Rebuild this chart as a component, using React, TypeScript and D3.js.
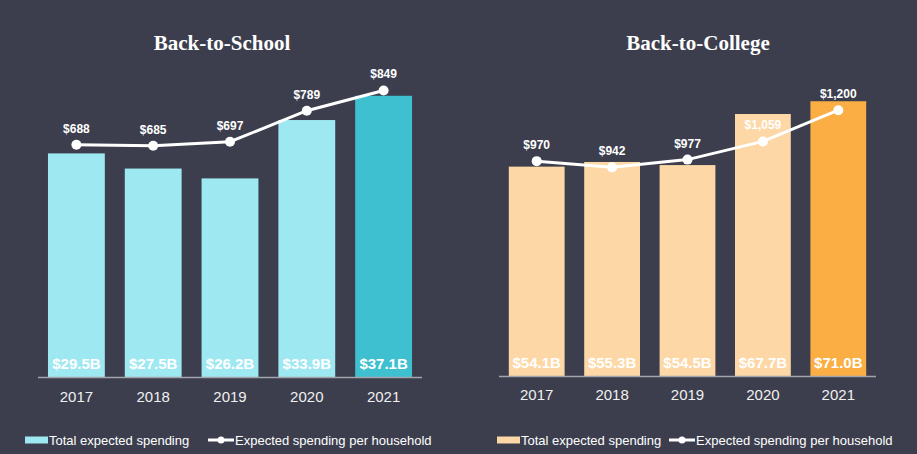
import React from "react";
import * as d3 from "d3";

const years = ["2017", "2018", "2019", "2020", "2021"];
const schoolTotals = [29.5, 27.5, 26.2, 33.9, 37.1];
const schoolPerHousehold = [688, 685, 697, 789, 849];
const collegeTotals = [54.1, 55.3, 54.5, 67.7, 71.0];
const collegePerHousehold = [970, 942, 977, 1059, 1200];
const titles = ["Back-to-School", "Back-to-College"];
const legendLabels = ["Total expected spending", "Expected spending per household"];

const BG = "rgb(60,62,77)";

type PanelProps = {
  title: string;
  totals: number[];
  perHH: number[];
  x0: number;
  x1: number;
  baseline: number;
  barPxPerUnit: number;
  linePxPerUnit: number;
  lightColor: string;
  darkColor: string;
  titleX: number;
  yearBaseline: number;
  legend: { swatchX: number; lineX: number };
};

function Panel(p: PanelProps) {
  const x = d3.scaleBand<string>().domain(years).range([p.x0, p.x1]).paddingInner(0.26).paddingOuter(0.13);
  const yBar = d3.scaleLinear().domain([0, 100]).range([p.baseline, p.baseline - 100 * p.barPxPerUnit]);
  const yLine = d3.scaleLinear().domain([0, 1000]).range([p.baseline, p.baseline - 1000 * p.linePxPerUnit]);
  const cx = (y: string) => (x(y) as number) + x.bandwidth() / 2;
  const lineGen = d3
    .line<number>()
    .x((_, i) => cx(years[i]))
    .y((v) => yLine(v));
  const fmt = d3.format("$,");
  const legendY = 440;
  return (
    <g>
      <text
        x={p.titleX}
        y={50}
        textAnchor="middle"
        fill="#ffffff"
        fontFamily="Liberation Serif, serif"
        fontWeight="bold"
        fontSize={21}
      >
        {p.title}
      </text>
      {years.map((yr, i) => (
        <rect
          key={"b" + yr}
          x={x(yr)}
          y={yBar(p.totals[i])}
          width={x.bandwidth()}
          height={p.baseline - yBar(p.totals[i])}
          fill={i === years.length - 1 ? p.darkColor : p.lightColor}
        />
      ))}
      <line x1={p.x0} x2={p.x1} y1={p.baseline + 0.5} y2={p.baseline + 0.5} stroke="#a3a5ad" strokeWidth={1.5} />
      {years.map((yr, i) => (
        <text
          key={"v" + yr}
          x={cx(yr)}
          y={p.baseline - 8}
          textAnchor="middle"
          fill="#ffffff"
          fontFamily="Liberation Sans, Arial, sans-serif"
          fontWeight="bold"
          fontSize={15}
        >
          {"$" + p.totals[i].toFixed(1) + "B"}
        </text>
      ))}
      {years.map((yr) => (
        <text
          key={"y" + yr}
          x={cx(yr)}
          y={p.yearBaseline}
          textAnchor="middle"
          fill="#f0f0f0"
          fontFamily="Liberation Sans, Arial, sans-serif"
          fontSize={15}
        >
          {yr}
        </text>
      ))}
      <path d={lineGen(p.perHH) || ""} fill="none" stroke="#ffffff" strokeWidth={3} />
      {years.map((yr, i) => (
        <circle key={"c" + yr} cx={cx(yr)} cy={yLine(p.perHH[i])} r={5} fill="#ffffff" />
      ))}
      {years.map((yr, i) => (
        <text
          key={"l" + yr}
          x={cx(yr)}
          y={yLine(p.perHH[i]) - 12}
          textAnchor="middle"
          fill="#ffffff"
          fontFamily="Liberation Sans, Arial, sans-serif"
          fontWeight="bold"
          fontSize={12}
        >
          {fmt(p.perHH[i])}
        </text>
      ))}
      <rect x={p.legend.swatchX} y={legendY - 3.5} width={23} height={7} fill={p.lightColor} />
      <text
        x={p.legend.swatchX + 24}
        y={legendY + 4.5}
        fill="#ffffff"
        fontFamily="Liberation Sans, Arial, sans-serif"
        fontSize={13}
      >
        {legendLabels[0]}
      </text>
      <line x1={p.legend.lineX} x2={p.legend.lineX + 26} y1={legendY} y2={legendY} stroke="#ffffff" strokeWidth={3} />
      <circle cx={p.legend.lineX + 13} cy={legendY} r={3.5} fill="#ffffff" />
      <text
        x={p.legend.lineX + 27}
        y={legendY + 4.5}
        fill="#ffffff"
        fontFamily="Liberation Sans, Arial, sans-serif"
        fontSize={13}
      >
        {legendLabels[1]}
      </text>
    </g>
  );
}

export default function App() {
  return (
    <svg width={917} height={454} style={{ position: "absolute", left: 0, top: 0, display: "block" }}>
      <rect width={917} height={454} fill={BG} />
      <Panel
        title={titles[0]}
        totals={schoolTotals}
        perHH={schoolPerHousehold}
        x0={38}
        x1={422}
        baseline={377}
        barPxPerUnit={7.58}
        linePxPerUnit={0.3375}
        lightColor="rgb(158,232,242)"
        darkColor="rgb(62,192,208)"
        titleX={222}
        yearBaseline={402}
        legend={{ swatchX: 25, lineX: 208 }}
      />
      <Panel
        title={titles[1]}
        totals={collegeTotals}
        perHH={collegePerHousehold}
        x0={499}
        x1={876}
        baseline={376}
        barPxPerUnit={3.87}
        linePxPerUnit={0.2215}
        lightColor="rgb(253,216,166)"
        darkColor="rgb(250,174,68)"
        titleX={698}
        yearBaseline={400}
        legend={{ swatchX: 497, lineX: 669 }}
      />
    </svg>
  );
}
